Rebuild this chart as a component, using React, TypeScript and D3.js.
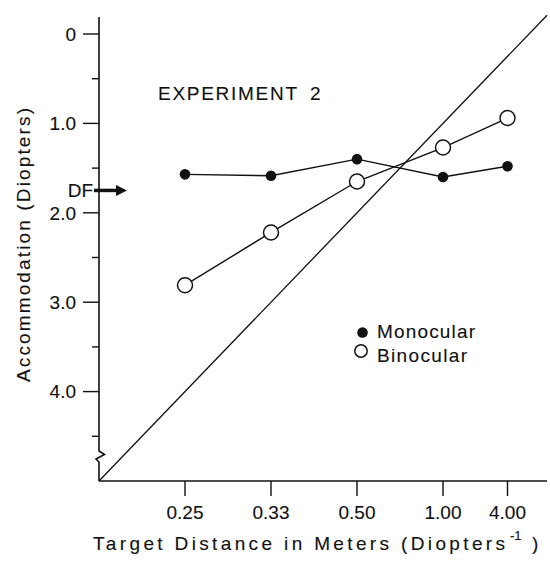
import React from "react";
import * as d3 from "d3";

// Target distances (meters) and their diopter equivalents
const targetLabels = ["0.25", "0.33", "0.50", "1.00", "4.00"];
const targetDiopters = [4, 3, 2, 1, 0.25];
// Accommodation responses (diopters)
const monocular = [1.57, 1.585, 1.4, 1.6, 1.48];
const binocular = [2.81, 2.22, 1.65, 1.27, 0.94];
const majorTicks = [0, 1, 2, 3, 4];
const majorTickLabels = ["0", "1.0", "2.0", "3.0", "4.0"];
const minorTicks = [0.5, 1.5, 2.5, 3.5, 4.5];
const dfValue = 1.75;
const identityLine = [5, -0.21];

const FONT = "'Liberation Sans', Arial, Helvetica, sans-serif";
const FS = 19;
const TS = { fill: "#111", stroke: "#111", strokeWidth: 0.12 };

export default function App() {
  const x = d3.scaleLinear().domain([5, 0]).range([99, 529]);
  const y = d3.scaleLinear().domain([0, 5]).range([34, 481]);
  const x0 = 99;
  const yBottom = 481;
  const line = d3
    .line<[number, number]>()
    .x((d) => x(d[0]))
    .y((d) => y(d[1]));
  const monoPts: [number, number][] = targetDiopters.map((d, i) => [d, monocular[i]]);
  const binoPts: [number, number][] = targetDiopters.map((d, i) => [d, binocular[i]]);
  const idPts: [number, number][] = identityLine.map((d) => [d, d]);
  const yDF = y(dfValue);

  return (
    <svg
      width={550}
      height={565}
      style={{ position: "absolute", left: 0, top: 0, background: "#fff" }}
      fontFamily={FONT}
    >
      <rect width={550} height={565} fill="#fff" />
      {/* Y axis with break */}
      <path
        d={`M${x0},17 V451 L104.5,454.5 L96,459 L99,462 V${yBottom}`}
        fill="none"
        stroke="#111"
        strokeWidth={1.6}
      />
      {/* X axis */}
      <line x1={x0} y1={yBottom} x2={547} y2={yBottom} stroke="#111" strokeWidth={1.6} />
      {/* Y ticks */}
      {majorTicks.map((t, i) => (
        <g key={"mj" + t}>
          <line x1={83} x2={x0} y1={y(t)} y2={y(t)} stroke="#111" strokeWidth={1.4} />
          <text x={76} y={y(t) + 6.8} textAnchor="end" fontSize={FS} {...TS}>
            {majorTickLabels[i]}
          </text>
        </g>
      ))}
      {minorTicks.map((t) => (
        <line key={"mn" + t} x1={92} x2={x0} y1={y(t)} y2={y(t)} stroke="#111" strokeWidth={1.4} />
      ))}
      {/* X ticks */}
      {targetDiopters.map((d, i) => (
        <g key={"xt" + i}>
          <line x1={x(d)} x2={x(d)} y1={yBottom} y2={496} stroke="#111" strokeWidth={1.4} />
          <text x={x(d)} y={518.5} textAnchor="middle" fontSize={FS} {...TS}>
            {targetLabels[i]}
          </text>
        </g>
      ))}
      {/* Identity line */}
      <path d={line(idPts) || ""} fill="none" stroke="#111" strokeWidth={1.3} />
      {/* Monocular */}
      <path d={line(monoPts) || ""} fill="none" stroke="#111" strokeWidth={1.4} />
      {monoPts.map((p, i) => (
        <circle key={"m" + i} cx={x(p[0])} cy={y(p[1])} r={5.3} fill="#111" />
      ))}
      {/* Binocular */}
      <path d={line(binoPts) || ""} fill="none" stroke="#111" strokeWidth={1.4} />
      {binoPts.map((p, i) => (
        <circle
          key={"b" + i}
          cx={x(p[0])}
          cy={y(p[1])}
          r={7.5}
          fill="#fff"
          stroke="#111"
          strokeWidth={1.5}
        />
      ))}
      {/* DF arrow */}
      <text x={93} y={yDF + 6.8} textAnchor="end" fontSize={FS} {...TS}>
        DF
      </text>
      <line x1={94} x2={118} y1={yDF} y2={yDF} stroke="#111" strokeWidth={3.5} />
      <polygon points={`${116},${yDF - 5.5} ${127},${yDF} ${116},${yDF + 5.5}`} fill="#111" />
      {/* Title */}
      <text x={158} y={100} fontSize={FS} textLength={139} lengthAdjust="spacing" {...TS}>
        EXPERIMENT
      </text>
      <text x={310} y={100} fontSize={FS} {...TS}>
        2
      </text>
      {/* Legend */}
      <circle cx={362.5} cy={332.5} r={5.3} fill="#111" />
      <text x={377} y={337.5} fontSize={FS} textLength={98} lengthAdjust="spacing" {...TS}>
        Monocular
      </text>
      <circle cx={361} cy={351} r={6.2} fill="#fff" stroke="#111" strokeWidth={1.5} />
      <text x={377} y={361.5} fontSize={FS} textLength={90} lengthAdjust="spacing" {...TS}>
        Binocular
      </text>
      {/* Y axis title */}
      <text
        transform="translate(29.5,382) rotate(-90)"
        x={0}
        y={0}
        fontSize={FS}
        textLength={274}
        lengthAdjust="spacing"
        {...TS}
      >
        Accommodation  (Diopters)
      </text>
      {/* X axis title */}
      <text x={93} y={550} fontSize={FS} textLength={412} lengthAdjust="spacing" {...TS}>
        Target Distance  in  Meters (Diopters
      </text>
      <text x={510} y={540} fontSize={13} {...TS}>
        -1
      </text>
      <text x={532} y={550} fontSize={FS} {...TS}>
        )
      </text>
    </svg>
  );
}
